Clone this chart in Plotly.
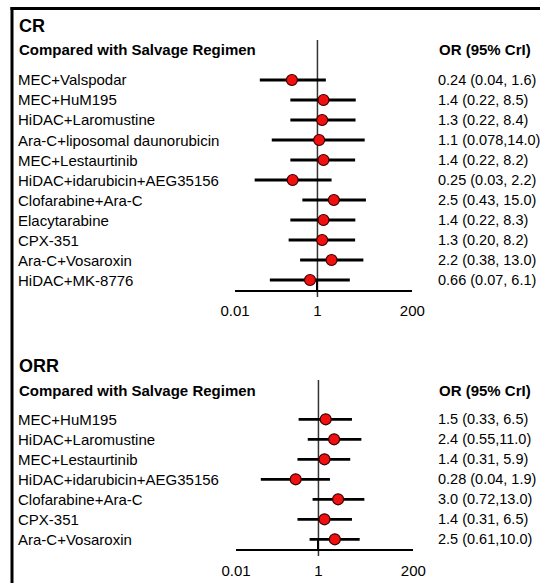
import plotly.graph_objects as go

W, H = 540, 583

# ---------------- data ----------------
cr_labels = ["MEC+Valspodar", "MEC+HuM195", "HiDAC+Laromustine",
             "Ara-C+liposomal daunorubicin", "MEC+Lestaurtinib",
             "HiDAC+idarubicin+AEG35156", "Clofarabine+Ara-C", "Elacytarabine",
             "CPX-351", "Ara-C+Vosaroxin", "HiDAC+MK-8776"]
cr_or = [0.24, 1.4, 1.3, 1.1, 1.4, 0.25, 2.5, 1.4, 1.3, 2.2, 0.66]
cr_lo = [0.04, 0.22, 0.22, 0.078, 0.22, 0.03, 0.43, 0.22, 0.20, 0.38, 0.07]
cr_hi = [1.6, 8.5, 8.4, 14.0, 8.2, 2.2, 15.0, 8.3, 8.2, 13.0, 6.1]
cr_text = ["0.24 (0.04, 1.6)", "1.4 (0.22, 8.5)", "1.3 (0.22, 8.4)",
           "1.1 (0.078,14.0)", "1.4 (0.22, 8.2)", "0.25 (0.03, 2.2)",
           "2.5 (0.43, 15.0)", "1.4 (0.22, 8.3)", "1.3 (0.20, 8.2)",
           "2.2 (0.38, 13.0)", "0.66 (0.07, 6.1)"]

orr_labels = ["MEC+HuM195", "HiDAC+Laromustine", "MEC+Lestaurtinib",
              "HiDAC+idarubicin+AEG35156", "Clofarabine+Ara-C", "CPX-351",
              "Ara-C+Vosaroxin"]
orr_or = [1.5, 2.4, 1.4, 0.28, 3.0, 1.4, 2.5]
orr_lo = [0.33, 0.55, 0.31, 0.04, 0.72, 0.31, 0.61]
orr_hi = [6.5, 11.0, 5.9, 1.9, 13.0, 6.5, 10.0]
orr_text = ["1.5 (0.33, 6.5)", "2.4 (0.55,11.0)", "1.4 (0.31, 5.9)",
            "0.28 (0.04, 1.9)", "3.0 (0.72,13.0)", "1.4 (0.31, 6.5)",
            "2.5 (0.61,10.0)"]

tick_vals = [0.01, 1, 200]
tick_text = ["0.01", "1", "200"]
panel_titles = ["CR", "ORR"]
sub_title = "Compared with Salvage Regimen"
col_title = "OR (95% CrI)"

FONT = "Arial, Liberation Sans, sans-serif"


def px_x(p):
    return p / W


def px_y(p):
    return 1 - p / H


fig = go.Figure()

panels = [
    dict(labels=cr_labels, orv=cr_or, lo=cr_lo, hi=cr_hi, txt=cr_text,
         xa="x", ya="y", row0=80, axis_y=290.7, top=40, bot=297,
         x0=235, x1=412.3, title_y=26, sub_y=50),
    dict(labels=orr_labels, orv=orr_or, lo=orr_lo, hi=orr_hi, txt=orr_text,
         xa="x2", ya="y2", row0=419.3, axis_y=550, top=380, bot=556,
         x0=236, x1=413.3, title_y=366, sub_y=390),
]

annotations = []
for k, p in enumerate(panels):
    n = len(p["labels"])
    idx = list(range(n))
    wx, wy = [], []
    for i in idx:
        wx += [p["lo"][i], p["hi"][i], None]
        wy += [i, i, None]
    ymin = (p["top"] - p["row0"]) / 20
    ymax = (p["bot"] - p["row0"]) / 20
    fig.add_trace(go.Scatter(x=[1, 1], y=[ymin, ymax], mode="lines",
                             line=dict(color="#333333", width=1.5),
                             xaxis=p["xa"], yaxis=p["ya"], showlegend=False,
                             hoverinfo="skip"))
    fig.add_trace(go.Scatter(x=wx, y=wy, mode="lines",
                             line=dict(color="black", width=2.8),
                             xaxis=p["xa"], yaxis=p["ya"], showlegend=False,
                             hoverinfo="skip"))
    fig.add_trace(go.Scatter(x=p["orv"], y=idx, mode="markers",
                             marker=dict(color="#f01010", size=11,
                                         line=dict(color="#3a0000", width=1.2)),
                             xaxis=p["xa"], yaxis=p["ya"], showlegend=False,
                             cliponaxis=False))
    xkey = "xaxis" if k == 0 else "xaxis2"
    ykey = "yaxis" if k == 0 else "yaxis2"
    fig.update_layout(**{
        xkey: dict(type="log", domain=[px_x(p["x0"]), px_x(p["x1"])],
                   range=[-2, 2.30103], anchor="free",
                   position=px_y(p["axis_y"]), automargin=False,
                   showline=True, linecolor="black", linewidth=1.5,
                   ticks="inside", ticklen=9, tickwidth=1.5, tickcolor="black",
                   tickvals=tick_vals, ticktext=tick_text,
                   ticklabelstandoff=7,
                   tickfont=dict(family=FONT, size=15, color="black"),
                   showgrid=False, zeroline=False, fixedrange=True),
        ykey: dict(domain=[px_y(p["bot"]), px_y(p["top"])],
                   range=[ymax, ymin], anchor=p["xa"], visible=False,
                   automargin=False,
                   showgrid=False, zeroline=False, fixedrange=True),
    })
    annotations.append(dict(text="<b>%s</b>" % panel_titles[k], x=px_x(17),
                            y=px_y(p["title_y"]), xref="paper", yref="paper",
                            xanchor="left", yanchor="middle", showarrow=False,
                            font=dict(family=FONT, size=18, color="black")))
    annotations.append(dict(text="<b>%s</b>" % sub_title, x=px_x(17),
                            y=px_y(p["sub_y"]), xref="paper", yref="paper",
                            xanchor="left", yanchor="middle", showarrow=False,
                            font=dict(family=FONT, size=15, color="black")))
    annotations.append(dict(text="<b>%s</b>" % col_title, x=px_x(437),
                            y=px_y(p["sub_y"]), xref="paper", yref="paper",
                            xanchor="left", yanchor="middle", showarrow=False,
                            font=dict(family=FONT, size=15, color="black")))
    for i in idx:
        annotations.append(dict(text=p["labels"][i], x=px_x(16), y=i,
                                xref="paper", yref=p["ya"], xanchor="left",
                                yanchor="middle", showarrow=False,
                                font=dict(family=FONT, size=15, color="black")))
        annotations.append(dict(text=p["txt"][i], x=px_x(436), y=i,
                                xref="paper", yref=p["ya"], xanchor="left",
                                yanchor="middle", showarrow=False,
                                font=dict(family=FONT, size=14.5, color="black")))

# frame (cropped on the right and bottom as in the reference)
shapes = [
    dict(type="line", xref="paper", yref="paper", x0=px_x(10.5), x1=1,
         y0=px_y(8.5), y1=px_y(8.5), line=dict(color="black", width=3),
         layer="above"),
    dict(type="line", xref="paper", yref="paper", x0=px_x(12), x1=px_x(12),
         y0=px_y(7), y1=0, line=dict(color="black", width=3),
         layer="above"),
]

fig.update_layout(width=W, height=H, margin=dict(l=0, r=0, t=0, b=0, pad=0),
                  autosize=False,
                  paper_bgcolor="white", plot_bgcolor="white",
                  annotations=annotations, shapes=shapes,
                  font=dict(family=FONT, size=15, color="black"))

fig.write_html("out.html", config={"displayModeBar": False},
               post_script="document.documentElement.style.margin='0px';"
                           "document.body.style.margin='0px';"
                           "document.body.style.overflow='hidden';"
                           "window.scrollTo(0,0);")
